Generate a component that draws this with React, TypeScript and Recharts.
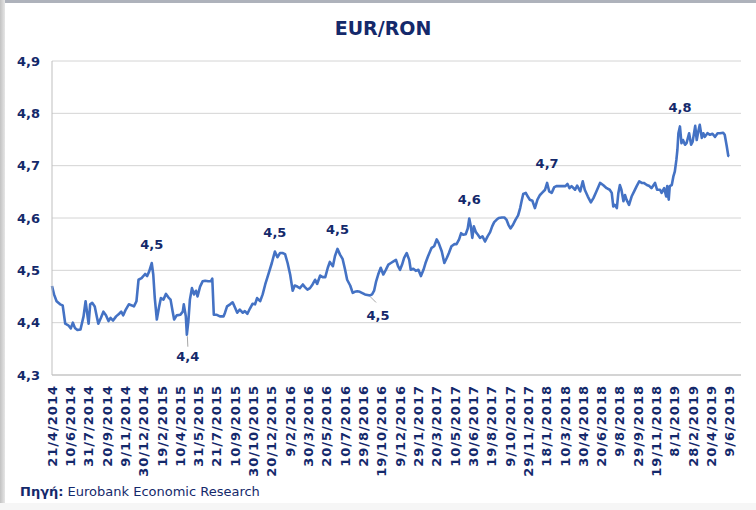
import React from "react";
import { LineChart, Line, XAxis, YAxis, CartesianGrid, LabelList } from "recharts";

const dateLabels = [
  "21/4/2014", "10/6/2014", "31/7/2014", "20/9/2014", "9/11/2014", "30/12/2014",
  "19/2/2015", "10/4/2015", "31/5/2015", "21/7/2015", "10/9/2015", "30/10/2015",
  "20/12/2015", "9/2/2016", "30/3/2016", "20/5/2016", "10/7/2016", "29/8/2016",
  "19/10/2016", "9/12/2016", "29/1/2017", "20/3/2017", "10/5/2017", "30/6/2017",
  "19/8/2017", "9/10/2017", "29/11/2017", "18/1/2018", "10/3/2018", "30/4/2018",
  "20/6/2018", "9/8/2018", "29/9/2018", "19/11/2018", "8/1/2019", "28/2/2019",
  "20/4/2019", "9/6/2019",
];

const tickStep = 36;
const yTicks = [4.3, 4.4, 4.5, 4.6, 4.7, 4.8, 4.9];

// business-day index of each reading
const dayIndex = [
  0, 4, 9, 16, 21, 26, 32, 37, 41, 45, 50, 56, 62, 66, 69, 72, 75, 79, 84, 88,
  91, 96, 101, 106, 111, 115, 120, 126, 132, 136, 140, 145, 151, 157, 161, 166, 170, 176, 183, 187,
  191, 196, 199, 202, 206, 210, 214, 219, 224, 229, 233, 237, 240, 245, 252, 257, 259, 263, 265, 268,
  271, 275, 279, 283, 286, 291, 296, 301, 307, 312, 315, 318, 324, 330, 337, 340, 344, 350, 355, 360,
  364, 369, 375, 379, 384, 389, 394, 399, 403, 409, 414, 419, 425, 432, 438, 443, 448, 453, 458, 463,
  468, 473, 477, 482, 487, 493, 497, 502, 507, 512, 517, 521, 527, 532, 537, 542, 546, 552, 556, 561,
  566, 571, 576, 580, 586, 591, 595, 600, 605, 611, 615, 620, 625, 629, 633, 637, 641, 646, 651, 656,
  661, 666, 671, 676, 680, 684, 688, 692, 697, 702, 705, 710, 715, 720, 725, 730, 734, 739, 746, 751,
  756, 760, 766, 771, 776, 780, 785, 791, 795, 800, 804, 808, 813, 817, 820, 823, 826, 829, 833, 837,
  841, 846, 851, 856, 861, 865, 869, 874, 878, 884, 889, 893, 897, 901, 906, 911, 916, 920, 923, 926,
  931, 935, 939, 944, 949, 954, 959, 963, 969, 973, 977, 982, 987, 992, 998, 1005, 1009, 1013, 1017, 1021,
  1028, 1032, 1038, 1043, 1047, 1053, 1059, 1064, 1070, 1077, 1083, 1090, 1096, 1100, 1103, 1106, 1110, 1113, 1116, 1119,
  1123, 1126, 1129, 1134, 1139, 1144, 1149, 1154, 1159, 1163, 1169, 1174, 1178, 1185, 1189, 1195, 1198, 1203, 1207, 1209,
  1212, 1214, 1218, 1221, 1224, 1227, 1229, 1231, 1234, 1237, 1240, 1244, 1247, 1252, 1256, 1259, 1264, 1267, 1270, 1273,
  1277, 1280, 1283, 1288, 1293, 1298, 1303, 1308, 1313, 1319, 1322, 1326, 1329, 1331,
];

// EUR/RON rate
const eurRon = [
  4.47, 4.454, 4.441, 4.435, 4.433, 4.398, 4.395, 4.389, 4.4, 4.39, 4.386, 4.387, 4.412, 4.441, 4.419, 4.398, 4.435, 4.438, 4.431, 4.412,
  4.398, 4.409, 4.421, 4.414, 4.403, 4.409, 4.404, 4.412, 4.417, 4.421, 4.414, 4.425, 4.435, 4.433, 4.431, 4.441, 4.482, 4.485, 4.493, 4.489,
  4.498, 4.514, 4.492, 4.447, 4.406, 4.428, 4.447, 4.444, 4.455, 4.448, 4.444, 4.422, 4.406, 4.414, 4.415, 4.421, 4.435, 4.412, 4.377, 4.403,
  4.444, 4.466, 4.454, 4.461, 4.45, 4.469, 4.479, 4.48, 4.479, 4.479, 4.484, 4.415, 4.415, 4.412, 4.412, 4.419, 4.431, 4.435, 4.439, 4.428,
  4.419, 4.425, 4.419, 4.422, 4.417, 4.427, 4.436, 4.435, 4.447, 4.441, 4.454, 4.473, 4.492, 4.514, 4.536, 4.525, 4.533, 4.533, 4.531, 4.514,
  4.492, 4.461, 4.471, 4.469, 4.466, 4.473, 4.468, 4.463, 4.466, 4.473, 4.482, 4.474, 4.49, 4.487, 4.487, 4.505, 4.516, 4.508, 4.527, 4.541,
  4.53, 4.522, 4.501, 4.482, 4.471, 4.457, 4.459, 4.46, 4.459, 4.456, 4.454, 4.453, 4.452, 4.454, 4.461, 4.479, 4.492, 4.505, 4.492, 4.501,
  4.511, 4.514, 4.517, 4.52, 4.508, 4.501, 4.511, 4.524, 4.533, 4.52, 4.501, 4.503, 4.499, 4.501, 4.489, 4.501, 4.514, 4.527, 4.543, 4.546,
  4.559, 4.552, 4.536, 4.514, 4.524, 4.533, 4.546, 4.55, 4.55, 4.559, 4.571, 4.568, 4.569, 4.58, 4.599, 4.584, 4.562, 4.584, 4.573, 4.568,
  4.562, 4.565, 4.555, 4.565, 4.573, 4.584, 4.592, 4.597, 4.6, 4.601, 4.601, 4.597, 4.587, 4.58, 4.587, 4.597, 4.605, 4.619, 4.633, 4.646,
  4.648, 4.641, 4.635, 4.633, 4.619, 4.635, 4.644, 4.648, 4.654, 4.667, 4.651, 4.648, 4.659, 4.661, 4.661, 4.661, 4.661, 4.665, 4.657, 4.661,
  4.654, 4.662, 4.651, 4.67, 4.654, 4.641, 4.63, 4.638, 4.651, 4.667, 4.663, 4.657, 4.654, 4.648, 4.622, 4.625, 4.619, 4.648, 4.663, 4.654,
  4.632, 4.644, 4.635, 4.625, 4.641, 4.651, 4.661, 4.67, 4.667, 4.667, 4.663, 4.661, 4.657, 4.667, 4.654, 4.654, 4.648, 4.657, 4.641, 4.661,
  4.635, 4.661, 4.663, 4.679, 4.689, 4.711, 4.73, 4.762, 4.775, 4.743, 4.749, 4.74, 4.743, 4.762, 4.74, 4.746, 4.776, 4.749, 4.765, 4.778,
  4.753, 4.762, 4.755, 4.762, 4.759, 4.761, 4.755, 4.762, 4.762, 4.763, 4.759, 4.737, 4.719, 4.718,
];

// readings that carry a data label
const labelIdx = [196, 265, 438, 561, 625, 820, 973, 1234];
const labelBelow = [265, 625];

const NAVY = "#14296b";
const FONT = "'DejaVu Sans', Verdana, sans-serif";

const fmt = (v: number) => v.toFixed(1).replace(".", ",");

const data = dayIndex.map((i, k) => ({
  i,
  v: eurRon[k],
  label: labelIdx.includes(i) ? fmt(eurRon[k]) : undefined,
}));

const belowOffset: Record<number, { dx: number; dy: number; lx: number; ly: number }> = {
  265: { dx: 1, dy: 22, lx: 1, ly: 12 },
  625: { dx: 8, dy: 20, lx: 6, ly: 7 },
};

const renderLabel = (props: any) => {
  const { index, value } = props;
  if (value === undefined || value === null || value === "") return null;
  const x = props.x ?? props.viewBox?.x;
  const y = props.y ?? props.viewBox?.y;
  const pt = data[index];
  if (!pt) return null;
  if (labelBelow.includes(pt.i)) {
    const o = belowOffset[pt.i];
    return (
      <g>
        <line x1={x + 0.5} y1={y + 1.5} x2={x + o.lx} y2={y + o.ly} stroke="#a6a6a6" strokeWidth={1} />
        <text x={x + o.dx} y={y + o.dy} textAnchor="middle" dominantBaseline="central"
          fontFamily={FONT} fontWeight="bold" fontSize={13} fill={NAVY}>{value}</text>
      </g>
    );
  }
  return (
    <text x={x} y={y - 19} textAnchor="middle" dominantBaseline="central"
      fontFamily={FONT} fontWeight="bold" fontSize={13} fill={NAVY}>{value}</text>
  );
};

const XTick = (props: any) => {
  const { x, y, payload } = props;
  const label = dateLabels[Math.round(payload.value / tickStep)];
  return (
    <text x={x} y={y} transform={`rotate(-90, ${x}, ${y})`} textAnchor="end" dy={4.6}
      fontFamily={FONT} fontWeight="bold" fontSize={13} letterSpacing={1} fill={NAVY}>
      {label}
    </text>
  );
};

const xTicks = dateLabels.map((_, k) => k * tickStep);

export default function App() {
  return (
    <div style={{ position: "absolute", left: 0, top: 0, width: 756, height: 510, background: "#ffffff", overflow: "hidden" }}>
      <div style={{ position: "absolute", left: 0, top: 0, width: 756, height: 3, background: "#aeb2bb" }} />
      <div style={{ position: "absolute", left: 0, top: 0, width: 5, height: 510, background: "linear-gradient(to right, #c2c2c2, #e6e6e6)" }} />
      <div style={{ position: "absolute", left: 0, top: 503, width: 756, height: 7, background: "#f6f6f6" }} />
      <div style={{ position: "absolute", left: 0, top: 0 }}>
        <LineChart width={756} height={510} data={data} margin={{ top: 61, right: 15, bottom: 25, left: 0 }}>
          <CartesianGrid vertical={false} stroke="#d4d4d4" strokeWidth={1} />
          <XAxis
            type="number"
            dataKey="i"
            domain={[0, 1354]}
            ticks={xTicks}
            interval={0}
            height={110}
            tickLine={false}
            tickSize={0}
            tickMargin={10}
            axisLine={{ stroke: "#bfbfbf" }}
            tick={<XTick />}
          />
          <YAxis
            type="number"
            domain={[4.3, 4.9]}
            ticks={yTicks}
            interval={0}
            width={52}
            tickLine={false}
            tickSize={0}
            tickMargin={12}
            axisLine={{ stroke: "#bfbfbf" }}
            tickFormatter={fmt}
            tick={{ fontFamily: FONT, fontWeight: "bold", fontSize: 13, fill: NAVY }}
          />
          <Line
            type="linear"
            dataKey="v"
            stroke="#4472C4"
            strokeWidth={2.6}
            strokeLinejoin="round"
            dot={false}
            activeDot={false}
            isAnimationActive={false}
          >
            <LabelList dataKey="label" content={renderLabel} />
          </Line>
        </LineChart>
      </div>
      <svg width={756} height={510} style={{ position: "absolute", left: 0, top: 0, pointerEvents: "none" }}>
        <text x={383} y={35} textAnchor="middle" fontFamily={FONT} fontWeight="bold" fontSize={19} fill={NAVY}>
          EUR/RON
        </text>
        <text x={20} y={496} fontFamily={FONT} fontSize={13} fill={NAVY}>
          <tspan fontWeight="bold">Πηγή:</tspan>
          <tspan> Eurobank Economic Research</tspan>
        </text>
      </svg>
    </div>
  );
}
